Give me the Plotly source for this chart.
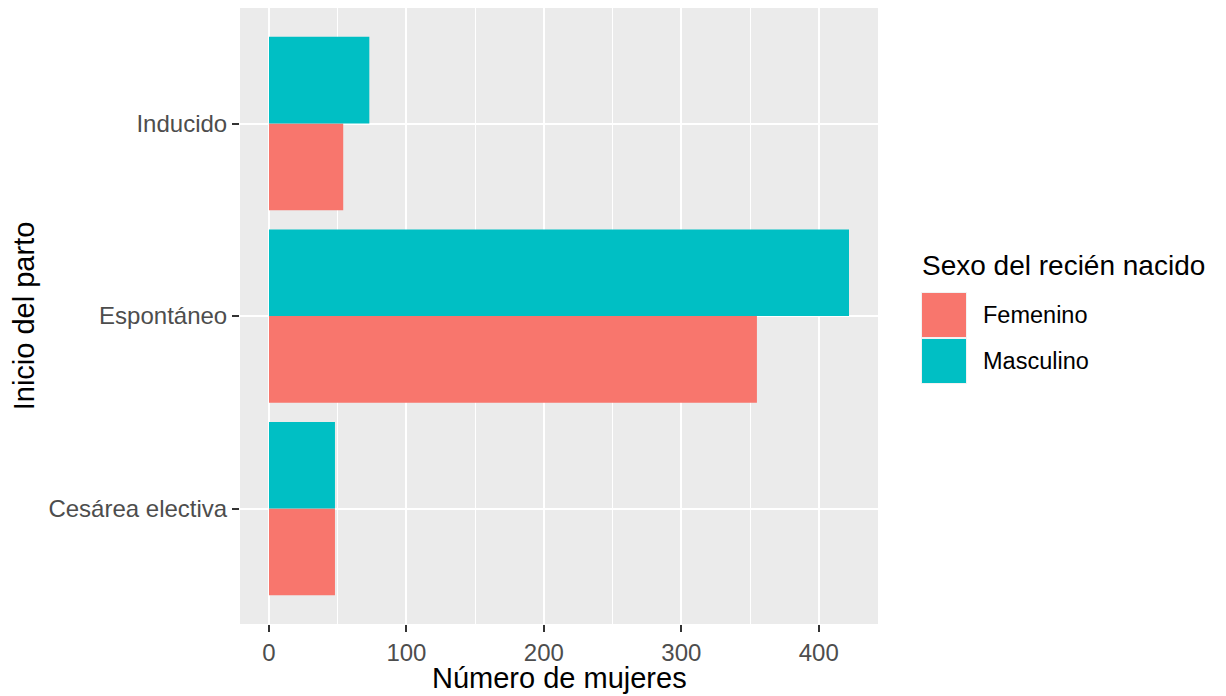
import plotly.graph_objects as go

categories = ["Cesárea electiva", "Espontáneo", "Inducido"]
femenino = [48, 355, 54]
masculino = [48, 422, 73]
series_names = ["Femenino", "Masculino"]
colors = ["#F8766D", "#00BFC4"]
x_ticks = [0, 100, 200, 300, 400]

fig = go.Figure()
for name, vals, col in zip(series_names, [femenino, masculino], colors):
    fig.add_trace(go.Bar(y=categories, x=vals, name=name, orientation="h",
                         marker=dict(color=col, line=dict(width=0)), showlegend=False))

font = "Liberation Sans, Arial, sans-serif"
OFF = 8  # page body margin
# target positions in page pixels
L, R, T, B = 240 - OFF, 878 - OFF, 8 - OFF, 624 - OFF
W, H = 1226, 696

def px(x):
    return (x - OFF - L) / (R - L)

def py(y):
    return (B - (y - OFF)) / (B - T)

fig.update_layout(
    width=W, height=H,
    margin=dict(l=L, r=W - R, t=T, b=H - B),
    paper_bgcolor="white", plot_bgcolor="#EBEBEB",
    barmode="group", bargap=0.1, bargroupgap=0,
    font=dict(family=font),
)
xmax = max(max(femenino), max(masculino))
fig.update_xaxes(
    range=[-0.05 * xmax, 1.05 * xmax], tickvals=x_ticks, ticktext=[str(v) for v in x_ticks],
    showgrid=True, gridcolor="white", gridwidth=2.3, zeroline=False,
    minor=dict(tickvals=[50, 150, 250, 350], showgrid=True, gridcolor="white", gridwidth=1.2, ticks=""),
    ticks="outside", ticklen=7, tickwidth=2, tickcolor="#333333",
    tickfont=dict(size=24, color="#4D4D4D", family=font),
    showline=False,
)
fig.update_yaxes(
    categoryorder="array", categoryarray=categories, range=[-0.6, 2.6],
    showgrid=True, gridcolor="white", gridwidth=2.3, zeroline=False,
    ticks="outside", ticklen=7, tickwidth=2, tickcolor="#333333",
    tickfont=dict(size=24, color="#4D4D4D", family=font),
    title=dict(text="Inicio del parto", font=dict(size=29, color="black", family=font), standoff=10),
    showline=False,
)

# x axis title
fig.add_annotation(text="Número de mujeres", xref="paper", yref="paper",
                   x=0.5, y=py(678), xanchor="center", yanchor="middle", showarrow=False,
                   font=dict(size=29, color="black", family=font))

# legend drawn manually (ggplot-style keys)
fig.add_annotation(text="Sexo del recién nacido", xref="paper", yref="paper",
                   x=px(920), y=py(265), xanchor="left", yanchor="middle", showarrow=False,
                   font=dict(size=28, color="black", family=font))
key_tops = [292, 338]
for name, col, top in zip(series_names, colors, key_tops):
    fig.add_shape(type="rect", xref="paper", yref="paper",
                  x0=px(921), x1=px(967), y0=py(top), y1=py(top + 46),
                  fillcolor="#F2F2F2", line=dict(width=0), layer="above")
    fig.add_shape(type="rect", xref="paper", yref="paper",
                  x0=px(922), x1=px(966), y0=py(top + 1), y1=py(top + 45),
                  fillcolor=col, line=dict(width=0), layer="above")
    fig.add_annotation(text=name, xref="paper", yref="paper",
                       x=px(981), y=py(top + 23), xanchor="left", yanchor="middle", showarrow=False,
                       font=dict(size=23.5, color="black", family=font))

fig.write_html("out.html")
